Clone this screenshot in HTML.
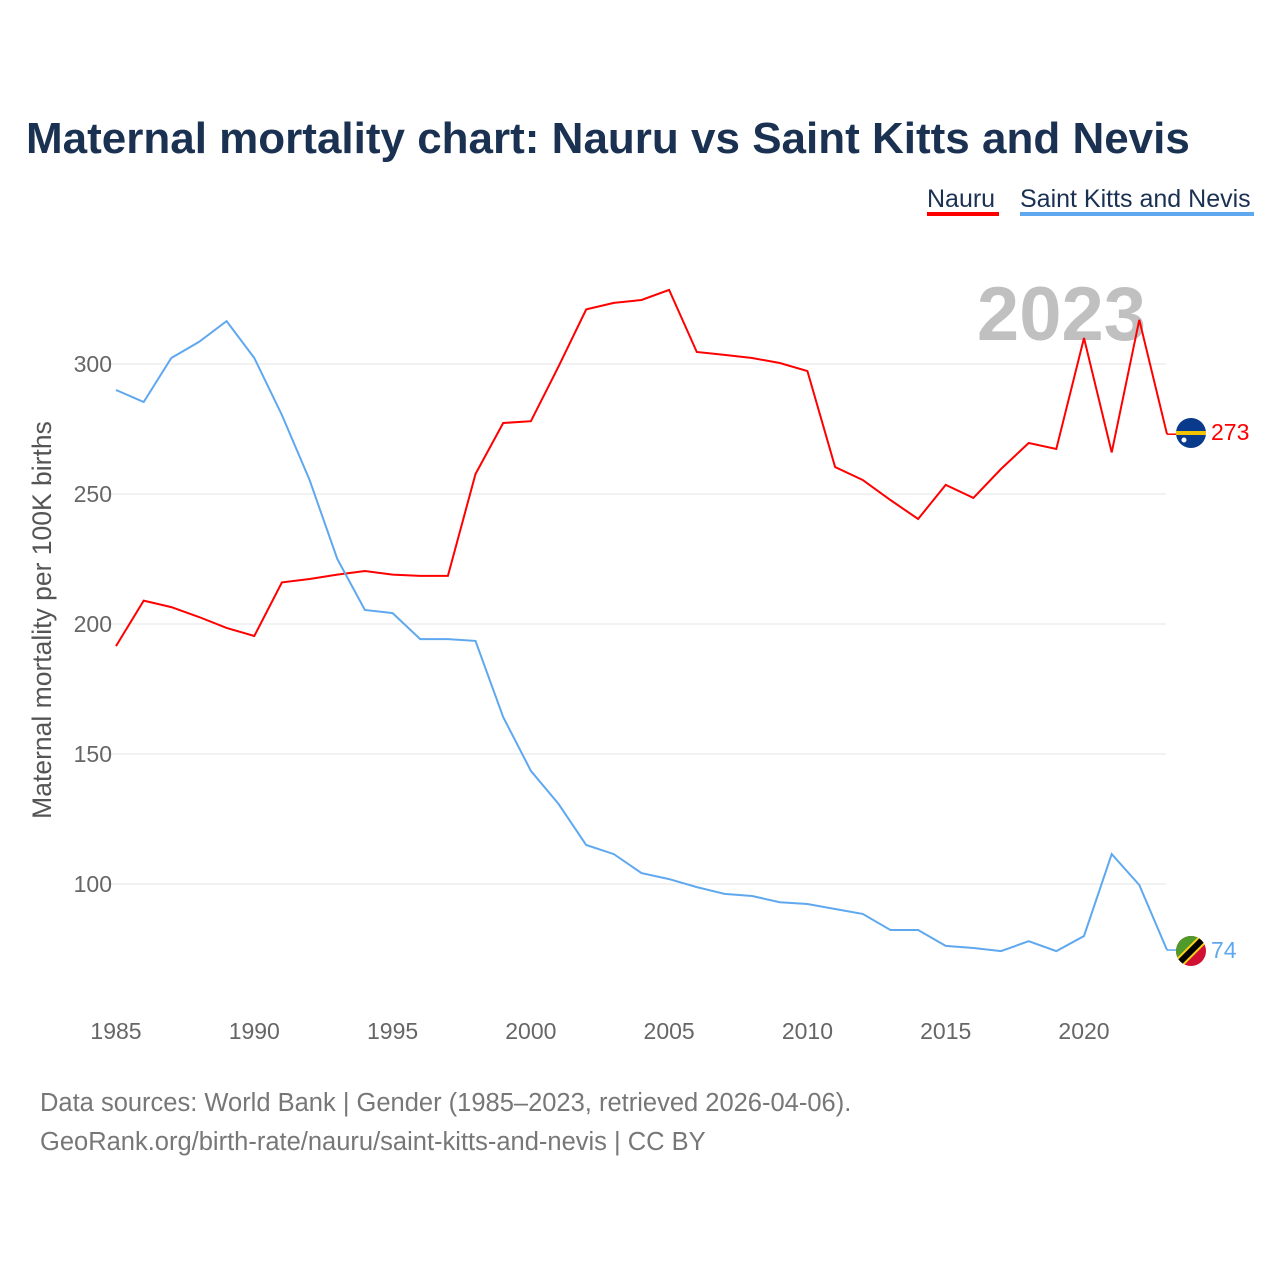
<!DOCTYPE html>
<html><head><meta charset="utf-8"><style>
body{margin:0;background:#fff;width:1280px;height:1280px;overflow:hidden;font-family:"Liberation Sans",sans-serif}
</style></head><body>
<svg id="chart" width="1280" height="1280" xmlns="http://www.w3.org/2000/svg" font-family="Liberation Sans, sans-serif">
<text x="26" y="153" font-size="44" font-weight="bold" fill="#1a3152">Maternal mortality chart: Nauru vs Saint Kitts and Nevis</text>
<g><text x="927" y="207" font-size="25" fill="#1a3152">Nauru</text><rect x="927" y="212" width="72" height="4" fill="#ff0000"/></g>
<g><text x="1020" y="207" font-size="25" fill="#1a3152">Saint Kitts and Nevis</text><rect x="1020" y="212" width="234" height="4" fill="#5fa8ef"/></g>
<text x="1146" y="340" font-size="76" font-weight="bold" fill="#c0c0c0" text-anchor="end">2023</text>
<text transform="translate(51,620) rotate(-90)" font-size="26.5" fill="#555" text-anchor="middle">Maternal mortality per 100K births</text>
<g id="grid"></g><g id="xt"></g><g id="lines"></g>
<g>
<circle cx="1191" cy="433" r="15" fill="#0a3a8c"/><rect x="1176" y="431" width="30" height="4" fill="#f5c400"/><circle cx="1184" cy="440" r="2.5" fill="#fff"/>
<text x="1211" y="440" font-size="23" fill="#ff0000">273</text>
<clipPath id="kc"><circle cx="1191" cy="951" r="15"/></clipPath>
<g clip-path="url(#kc)"><rect x="1176" y="936" width="30" height="30" fill="#d21034"/><polygon points="1176,936 1206,936 1176,966" fill="#4e9a2a"/><line x1="1176" y1="966" x2="1206" y2="936" stroke="#fcd116" stroke-width="10"/><line x1="1176" y1="966" x2="1206" y2="936" stroke="#000" stroke-width="6"/></g>
<text x="1211" y="958" font-size="23" fill="#5fa8ef">74</text>
</g>
<text x="40" y="1111" font-size="25.5" fill="#777">Data sources: World Bank | Gender (1985–2023, retrieved 2026-04-06).</text>
<text x="40" y="1150" font-size="25.5" fill="#777">GeoRank.org/birth-rate/nauru/saint-kitts-and-nevis | CC BY</text>
</svg>
<script>
const years=[1985,1986,1987,1988,1989,1990,1991,1992,1993,1994,1995,1996,1997,1998,1999,2000,2001,2002,2003,2004,2005,2006,2007,2008,2009,2010,2011,2012,2013,2014,2015,2016,2017,2018,2019,2020,2021,2022,2023];
const nauru=[191.5,209,206.5,202.7,198.5,195.4,216,217.3,219,220.4,219,218.5,218.5,257.7,277.3,278,299,321,323.5,324.6,328.5,304.6,303.5,302.3,300.4,297.3,260.4,255.4,247.7,240.4,253.5,248.5,259.6,269.6,267.3,310,266,317,273];
const kitts=[290,285.4,302.3,308.5,316.5,302.3,280.4,255.4,225,205.4,204.2,194.2,194.2,193.5,164.2,143.5,130.8,115,111.5,104.2,101.9,98.8,96.2,95.4,93,92.3,90.4,88.5,82.3,82.3,76.2,75.4,74.2,78,74.2,80,111.5,99.6,74.6];
const yTicks=[100,150,200,250,300];
const xTicks=[1985,1990,1995,2000,2005,2010,2015,2020];
const ns="http://www.w3.org/2000/svg";
const X=y=>116+(y-1985)*(1084-116)/35;
const Y=v=>364+(300-v)*2.6;
function mk(t,a,p){const e=document.createElementNS(ns,t);for(const k in a)e.setAttribute(k,a[k]);p.appendChild(e);return e;}
const g=document.getElementById('grid');
yTicks.forEach(v=>{
 const l=mk('line',{x1:100,x2:1166,y1:Y(v),y2:Y(v),stroke:'#e6e6e6','stroke-width':1},g);
 
 
 const t=mk('text',{x:112,y:Y(v)+8,'font-size':23,fill:'#666','text-anchor':'end'},g);t.textContent=v;
 
 
});
const xt=document.getElementById('xt');
xTicks.forEach(v=>{
 const t=mk('text',{x:X(v),y:1039,'font-size':23,fill:'#666','text-anchor':'middle'},xt);t.textContent=v;
 
 
});
const lg=document.getElementById('lines');
function line(vals,color,name){
 const d=vals.map((v,i)=>(i?'L':'M')+X(years[i]).toFixed(1)+','+Y(v).toFixed(1)).join('');
 const p=mk('path',{d:d,fill:'none',stroke:color,'stroke-width':2},lg);
 
 
 const last=vals[vals.length-1];
 const c=mk('line',{x1:X(2023),x2:1176,y1:Y(last),y2:Y(last),stroke:color,'stroke-width':1.5},lg);
 
 
}
line(nauru,'#ff0000','nauru-line');
line(kitts,'#5fa8ef','saint-kitts-line');
</script>
</body></html>
